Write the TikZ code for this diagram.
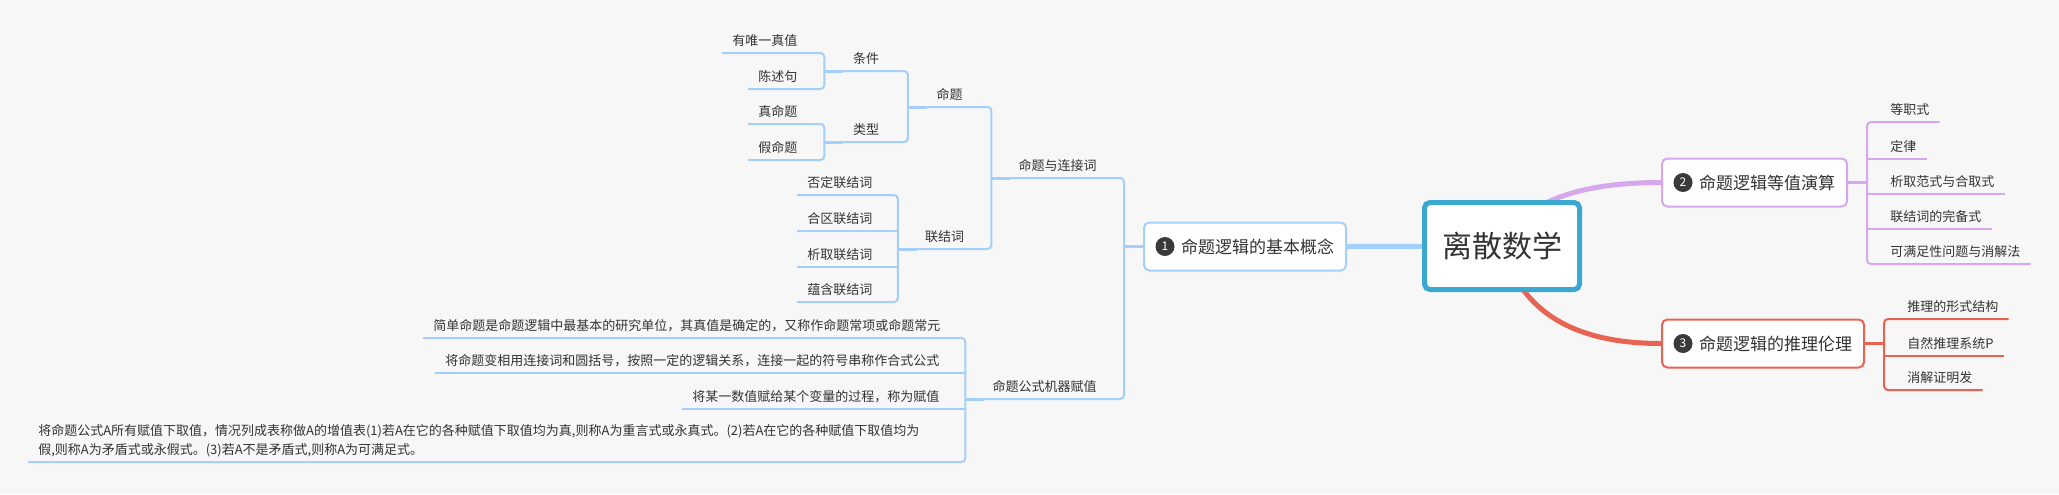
\documentclass[tikz,border=0pt]{standalone}
\usepackage{fontspec}
\setmainfont{Noto Sans CJK SC}
\usepackage{xcolor}
\usepackage{tikz}

\definecolor{bgcol}{HTML}{F7F7F7}
\definecolor{txt}{HTML}{333333}
\definecolor{bluel}{HTML}{A3CFFA}
\definecolor{purpl}{HTML}{D6A7EC}
\definecolor{redl}{HTML}{E96352}
\definecolor{rootcol}{HTML}{3BA9CF}
\definecolor{badgecol}{HTML}{3A3A3A}

\begin{document}
\begin{tikzpicture}[
        x=0.75pt, y=-0.75pt,
        root/.style={draw=rootcol, line width=3.75pt, rounded corners=4pt, fill=white, minimum width=116.25pt, minimum height=65.25pt, font=\fontsize{22.5}{26}\selectfont, text=txt},
        topic/.style={draw, line width=1.5pt, rounded corners=4pt, fill=white, minimum height=36pt, inner xsep=9pt, anchor=west, font=\fontsize{12.75}{15}\selectfont, text=txt},
        badge/.style={circle, fill=badgecol, text=white, minimum size=14.25pt, inner sep=0pt, font=\fontsize{9}{10}\selectfont},
        leaf/.style={inner xsep=7.5pt, inner ysep=3pt, text depth=2.25pt, font=\fontsize{9.75}{14.25}\selectfont, text=txt},
        mid/.style={leaf, inner xsep=20.25pt, minimum width=62.25pt, anchor=south east},
        bline/.style={line width=1.5pt, bluel, rounded corners=3pt},
        pline/.style={line width=1.5pt, purpl, rounded corners=3pt},
        rline/.style={line width=1.5pt, redl, rounded corners=3pt},
        stub/.style={line width=2.25pt},
        branch/.style={line width=3.75pt}
    ]
        \fill[bgcol] (0,0) rectangle (2059,494);
        \useasboundingbox (0,0) rectangle (2059,494);

        % main topics
        \coordinate (c0) at (1502,246);
        \node[topic, draw=bluel] (n1) at (1143,246.5) {\hspace*{18.75pt}命题逻辑的基本概念};
        \node[topic, draw=purpl] (n2) at (1661,182.5) {\hspace*{18.75pt}命题逻辑等值演算};
        \node[topic, draw=redl] (n3) at (1661,343.5) {\hspace*{18.75pt}命题逻辑的推理伦理};
        \node[badge] (b1) at ([xshift=16.5pt]n1.west) {1};
        \node[badge] (b2) at ([xshift=16.5pt]n2.west) {2};
        \node[badge] (b3) at ([xshift=16.5pt]n3.west) {3};

        \draw[branch, bluel] (n1.east) -- (c0);
        \draw[branch, purpl] (c0) .. controls +(19,-42) and +(-87,0) .. (n2.west);
        \draw[branch, redl] (c0) .. controls +(19,66) and +(-87,0) .. (n3.west);
        \node[root] (root) at (c0) {离散数学};

        % left side
        \node[mid] (m5) at (1124,178) {命题与连接词};
        \node[mid] (m6) at (1124,399) {命题公式机器赋值};
        \node[mid] (m3) at (m5.south west |- 0,107) {命题};
        \node[mid] (m4) at (m5.south west |- 0,249) {联结词};
        \node[mid] (m1) at (m3.south west |- 0,71) {条件};
        \node[mid] (m2) at (m3.south west |- 0,142) {类型};

        \node[leaf, anchor=south west] (a1) at (722,53) {有唯一真值};
        \node[leaf, anchor=south west] (a2) at (748,89) {陈述句};
        \node[leaf, anchor=south west] (a3) at (748,124) {真命题};
        \node[leaf, anchor=south west] (a4) at (748,160) {假命题};

        \node[leaf, anchor=south west] (k1) at (797,195) {否定联结词};
        \node[leaf, anchor=south west] (k2) at (797,231) {合区联结词};
        \node[leaf, anchor=south west] (k3) at (797,267) {析取联结词};
        \node[leaf, anchor=south west] (k4) at (797,302) {蕴含联结词};

        \node[leaf, anchor=south west] (d1) at (423,338) {简单命题是命题逻辑中最基本的研究单位，其真值是确定的，又称作命题常项或命题常元};
        \node[leaf, anchor=south west] (d2) at (435,373) {将命题变相用连接词和圆括号，按照一定的逻辑关系，连接一起的符号串称作合式公式};
        \node[leaf, anchor=south west] (d3) at (682,409) {将某一数值赋给某个变量的过程，称为赋值};
        \node[leaf, anchor=south west, align=left] (d4) at (28,462) {将命题公式A所有赋值下取值，情况列成表称做A的增值表(1)若A在它的各种赋值下取值均为真,则称A为重言式或永真式。(2)若A在它的各种赋值下取值均为\\假,则称A为矛盾式或永假式。(3)若A不是矛盾式,则称A为可满足式。};

        \coordinate (j1) at ([xshift=-14.25pt]n1.west);
        \draw[bline] (a1.south west) -| (m1.south west) |- (a2.south west);
        \draw[bline] (a3.south west) -| (m2.south west) |- (a4.south west);
        \draw[bline] (m1.south west) -| (m3.south west) |- (m2.south west);
        \draw[bline] (k1.south west) -| (m4.south west) |- (k4.south west);
        \draw[bline] (k2.south west) -- (k2.south west -| m4.south west);
        \draw[bline] (k3.south west) -- (k3.south west -| m4.south west);
        \draw[bline] (m3.south west) -| (m5.south west) |- (m4.south west);
        \draw[bline] (d1.south west) -| (m6.south west) |- (d4.south west);
        \draw[bline] (d2.south west) -- (d2.south west -| m6.south west);
        \draw[bline] (d3.south west) -- (d3.south west -| m6.south west);
        \draw[bline] (m5.south west) -| (j1) |- (m6.south west);
        \draw[bline, stub] (j1) -- (n1.west);
        \draw[bline, stub] (m1.south west) -- ++(19,0);
        \draw[bline, stub] (m2.south west) -- ++(19,0);
        \draw[bline, stub] (m3.south west) -- ++(19,0);
        \draw[bline, stub] (m4.south west) -- ++(19,0);
        \draw[bline, stub] (m5.south west) -- ++(19,0);
        \draw[bline, stub] (m6.south west) -- ++(19,0);

        % right side
        \node[leaf, anchor=south west] (e1) at (1880,122) {等职式};
        \node[leaf, anchor=south west] (e2) at (1880,159) {定律};
        \node[leaf, anchor=south west] (e3) at (1880,194) {析取范式与合取式};
        \node[leaf, anchor=south west] (e4) at (1880,229) {联结词的完备式};
        \node[leaf, anchor=south west] (e5) at (1880,264) {可满足性问题与消解法};

        \node[leaf, anchor=south west] (f1) at (1897,319) {推理的形式结构};
        \node[leaf, anchor=south west] (f2) at (1897,356) {自然推理系统P};
        \node[leaf, anchor=south west] (f3) at (1897,390) {消解证明发};

        \coordinate (j2) at ([xshift=14.25pt]n2.east);
        \coordinate (j3) at ([xshift=14.25pt]n3.east);
        \draw[pline] (e1.south east) -| (j2) |- (e5.south east);
        \draw[pline] (e2.south east) -- (e2.south east -| j2);
        \draw[pline] (e3.south east) -- (e3.south east -| j2);
        \draw[pline] (e4.south east) -- (e4.south east -| j2);
        \draw[pline, stub] (n2.east) -- (j2);
        \draw[rline] (f1.south east) -| (j3) |- (f3.south east);
        \draw[rline] (f2.south east) -- (f2.south east -| j3);
        \draw[rline, stub] (n3.east) -- (j3);
    \end{tikzpicture}
\end{document}
